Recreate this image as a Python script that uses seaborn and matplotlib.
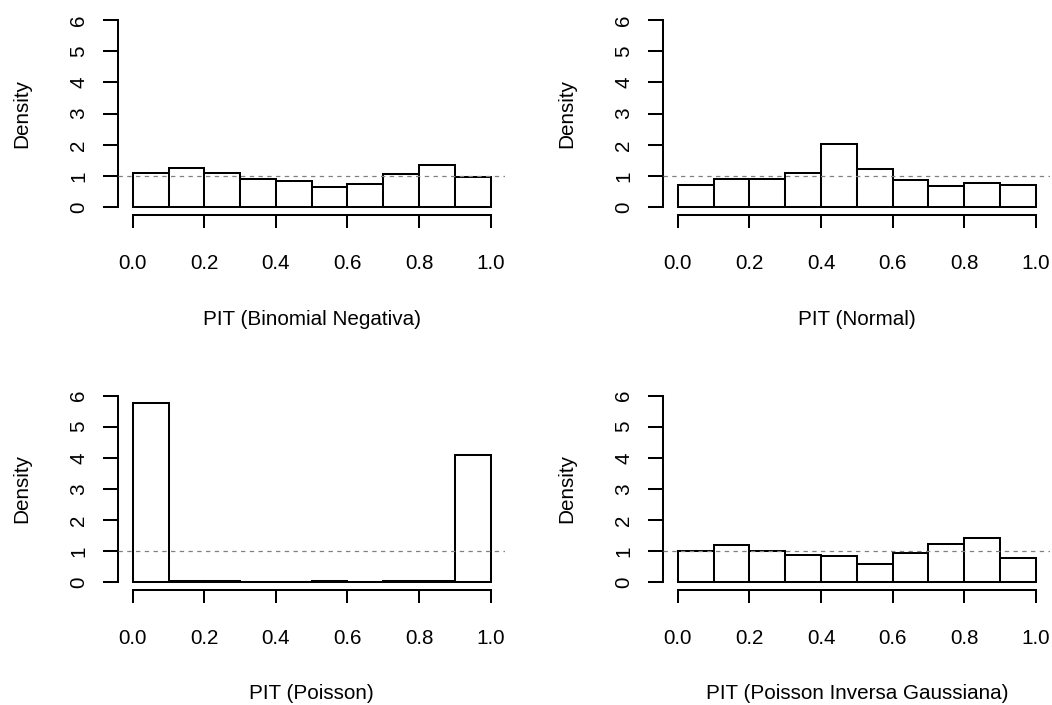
import numpy as np
import pandas as pd
import matplotlib
matplotlib.use("Agg")
import matplotlib.pyplot as plt
import seaborn as sns

# ---- data (densities per PIT bin) ----
bin_edges = [0.0, 0.1, 0.2, 0.3, 0.4, 0.5, 0.6, 0.7, 0.8, 0.9, 1.0]
dens_binneg = [1.09, 1.25, 1.10, 0.91, 0.83, 0.66, 0.75, 1.08, 1.37, 0.96]
dens_normal = [0.73, 0.91, 0.91, 1.10, 2.03, 1.24, 0.87, 0.69, 0.77, 0.73]
dens_poisson = [5.77, 0.04, 0.02, 0.0, 0.0, 0.02, 0.0, 0.02, 0.02, 4.08]
dens_pig = [1.01, 1.20, 1.01, 0.88, 0.84, 0.59, 0.92, 1.22, 1.41, 0.78]
xlabels = ["PIT (Binomial Negativa)", "PIT (Normal)",
           "PIT (Poisson)", "PIT (Poisson Inversa Gaussiana)"]
xticks = [0.0, 0.2, 0.4, 0.6, 0.8, 1.0]
yticks = [0, 1, 2, 3, 4, 5, 6]

sns.set_theme(style="white")
plt.rcParams['font.family'] = ['Liberation Sans', 'DejaVu Sans']
plt.rcParams['text.color'] = 'black'
plt.rcParams['axes.labelcolor'] = 'black'
plt.rcParams['xtick.color'] = 'black'
plt.rcParams['ytick.color'] = 'black'

W, H = 1052, 705
fig = plt.figure(figsize=(W / 100, H / 100), dpi=100)

# plot regions in pixels: (left, top, right, bottom)
regions = [
    (118.4, 12.5, 505.0, 214.8),
    (663.4, 12.5, 1050.3, 214.8),
    (118.4, 388.2, 505.0, 589.5),
    (663.4, 388.2, 1050.3, 589.5),
]
all_dens = [dens_binneg, dens_normal, dens_poisson, dens_pig]

edges = np.array(bin_edges)
mids = (edges[:-1] + edges[1:]) / 2
lw = 1.45
fs = 14.9

for reg, dens, xl in zip(regions, all_dens, xlabels):
    l, t, r, b = reg
    ax = fig.add_axes([l / W, 1 - b / H, (r - l) / W, (b - t) / H])
    df = pd.DataFrame({"pit": mids, "w": dens})
    sns.histplot(data=df, x="pit", weights="w", bins=bin_edges, stat="count",
                 color="white", edgecolor="black", linewidth=lw, alpha=1,
                 ax=ax)
    ax.axhline(1, color="#808080", lw=0.9, ls=(0, (3.5, 3.5)), zorder=5)
    ax.set_xlim(-0.04, 1.04)
    ax.set_ylim(-0.24, 6.24)
    ax.set_xticks(xticks)
    ax.set_xticklabels([f"{v:.1f}" for v in xticks])
    ax.set_yticks(yticks)
    ax.set_yticklabels([str(v) for v in yticks], rotation=90, va="center")
    for s in ["top", "right"]:
        ax.spines[s].set_visible(False)
    ax.spines["left"].set_bounds(0, 6)
    ax.spines["bottom"].set_bounds(0, 1)
    for s in ["left", "bottom"]:
        ax.spines[s].set_color("black")
        ax.spines[s].set_linewidth(lw)
    ax.tick_params(axis="y", direction="out", length=10.8, width=lw,
                   color="black", labelcolor="black", pad=11.0,
                   labelsize=fs, left=True)
    ax.tick_params(axis="x", direction="out", length=9.4, width=lw,
                   color="black", labelcolor="black", pad=19.0,
                   labelsize=fs, bottom=True)
    ax.set_xlabel(xl, fontsize=fs, labelpad=26.2, color="black")
    ax.set_ylabel("Density", fontsize=fs, labelpad=27, color="black")
    ax.grid(False)
    ax.set_facecolor("white")

fig.savefig("out.png", dpi=100, facecolor="white")
